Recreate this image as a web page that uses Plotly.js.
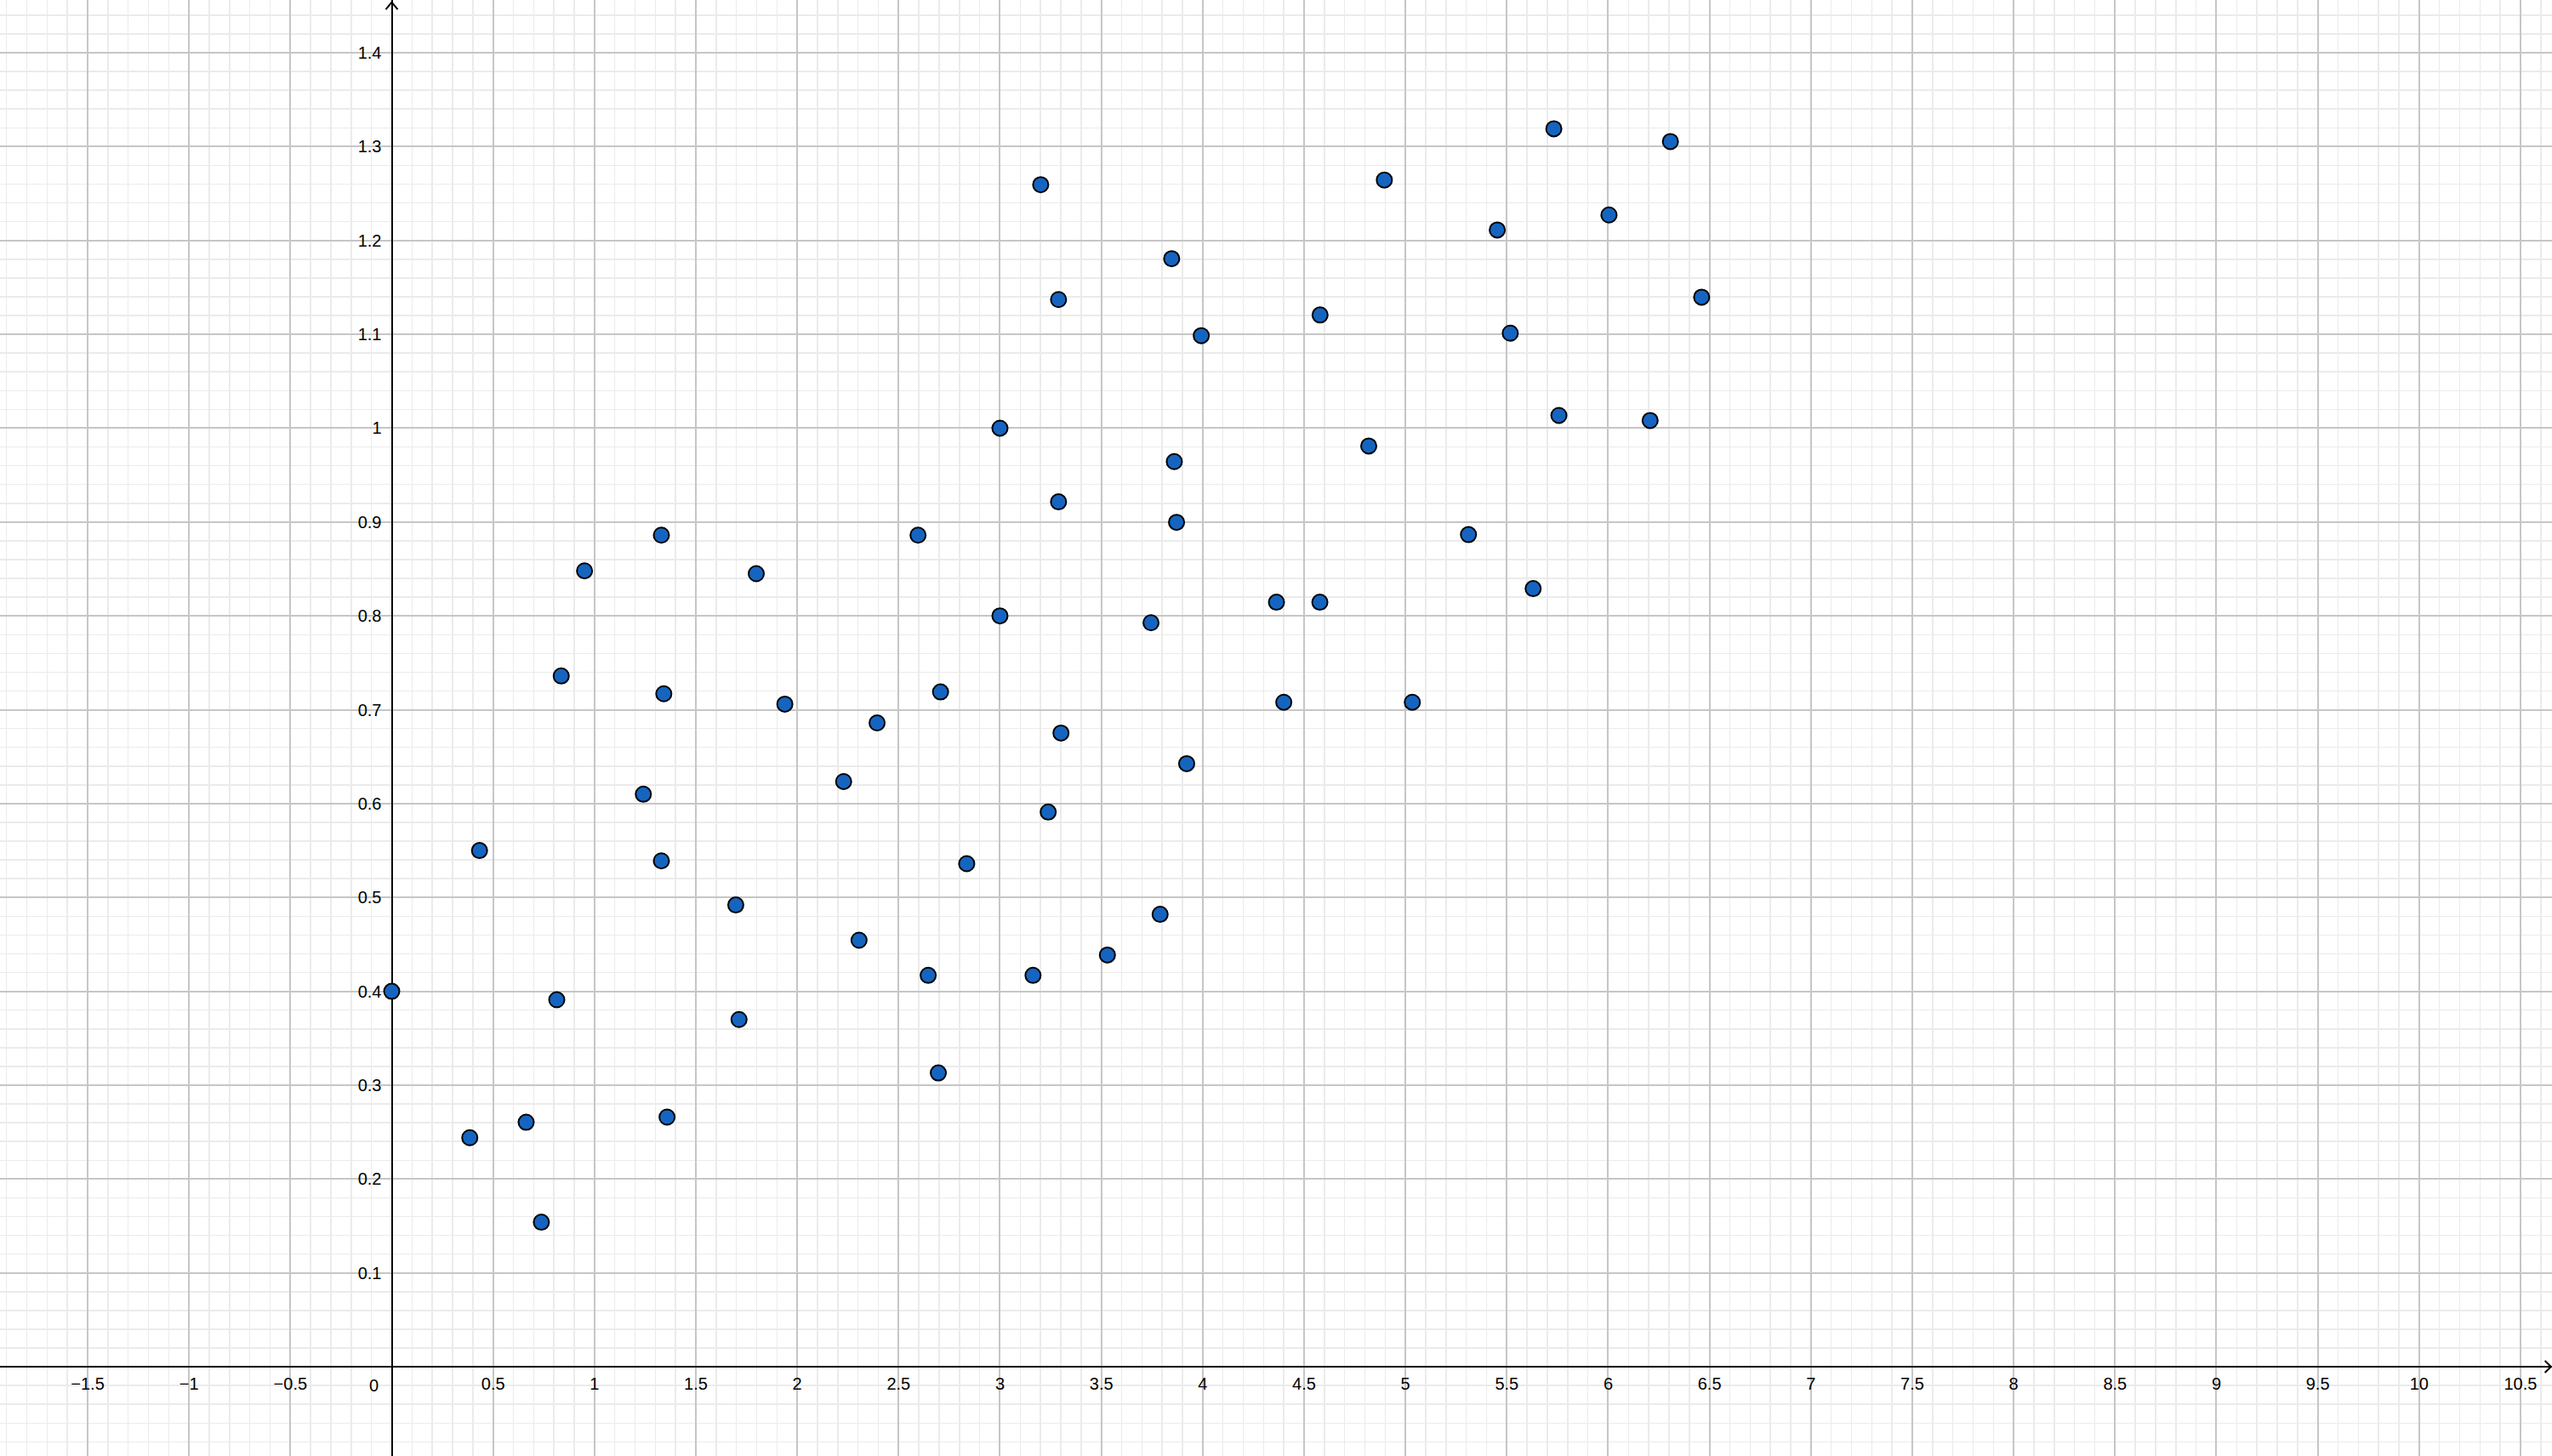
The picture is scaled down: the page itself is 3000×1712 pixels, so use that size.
<!DOCTYPE html>
<html>
<head>
<meta charset="utf-8">
<script src="https://cdn.plot.ly/plotly-3.0.1.min.js"></script>
<style>html,body{margin:0;padding:0;background:#fff;}#chart{width:3000px;height:1712px;}</style>
</head>
<body>
<div id="chart"></div>
<script>
// Data points
const xValues = [0, 0.385, 0.663, 0.738, 0.814, 1.358, 1.713, 0.433, 0.836, 0.951,
  1.330, 1.342, 1.241, 1.330, 1.697, 1.798, 1.939, 2.229, 2.305, 2.394,
  2.646, 2.696, 2.707, 2.596, 2.836, 3.0, 3.0, 3.163, 3.201, 3.238,
  3.289, 3.289, 3.301, 3.53, 3.745, 3.79, 3.847, 3.86, 3.871, 3.921,
  3.993, 4.364, 4.400, 4.579, 4.578, 4.819, 4.896, 5.034, 5.311, 5.453,
  5.517, 5.630, 5.732, 5.757, 6.004, 6.207, 6.307, 6.461];
const yValues = [0.400, 0.244, 0.2605, 0.154, 0.391, 0.266, 0.370, 0.550, 0.736, 0.848,
  0.886, 0.717, 0.610, 0.539, 0.492, 0.845, 0.706, 0.6235, 0.4545, 0.686,
  0.417, 0.313, 0.719, 0.886, 0.536, 1.0, 0.8, 0.417, 1.2594, 0.591,
  1.137, 0.9215, 0.6752, 0.4387, 0.7927, 0.482, 1.1806, 0.9644, 0.8997, 0.6426,
  1.0986, 0.8146, 0.708, 1.1206, 0.8146, 0.981, 1.2644, 0.708, 0.8866, 1.2112,
  1.1012, 0.8291, 1.319, 1.0136, 1.2272, 1.0082, 1.3054, 1.1396];

// Tick labels
const xTickVals = [-1.5, -1, -0.5, 0.5, 1, 1.5, 2, 2.5, 3, 3.5, 4, 4.5, 5, 5.5, 6, 6.5, 7, 7.5, 8, 8.5, 9, 9.5, 10, 10.5];
const xTickText = ["\u22121.5", "\u22121", "\u22120.5", "0.5", "1", "1.5", "2", "2.5", "3", "3.5", "4", "4.5", "5", "5.5", "6", "6.5", "7", "7.5", "8", "8.5", "9", "9.5", "10", "10.5"];
const yTickVals = [0.1, 0.2, 0.3, 0.4, 0.5, 0.6, 0.7, 0.8, 0.9, 1, 1.1, 1.2, 1.3, 1.4];
const yTickText = ["0.1", "0.2", "0.3", "0.4", "0.5", "0.6", "0.7", "0.8", "0.9", "1", "1.1", "1.2", "1.3", "1.4"];

const xRange = [-1.9322, 10.6554];
const yRange = [-0.0951, 1.4562];

const majorGrid = '#c6c6c6';
const minorGrid = '#ebebeb';
const fontFamily = 'Liberation Sans, Arial, sans-serif';

const trace = {
  type: 'scatter',
  mode: 'markers',
  x: xValues,
  y: yValues,
  marker: {size: 18, color: '#1565c0', line: {color: '#000000', width: 2}},
  hoverinfo: 'skip',
  cliponaxis: false
};

const xFrac = (0 - xRange[0]) / (xRange[1] - xRange[0]);
const yFrac = (0 - yRange[0]) / (yRange[1] - yRange[0]);

const layout = {
  width: 3000,
  height: 1712,
  margin: {l: 0, r: 0, t: 0, b: 0, pad: 0},
  paper_bgcolor: '#ffffff',
  plot_bgcolor: '#ffffff',
  showlegend: false,
  xaxis: {
    range: xRange,
    anchor: 'free',
    position: yFrac,
    tickmode: 'array',
    tickvals: xTickVals,
    ticktext: xTickText,
    ticks: '',
    ticklabelstandoff: 6,
    showline: false,
    showgrid: true,
    gridcolor: majorGrid,
    gridwidth: 2,
    zeroline: true,
    zerolinecolor: '#000000',
    zerolinewidth: 2,
    tickfont: {family: fontFamily, size: 20, color: '#000000'},
    minor: {tickmode: 'linear', tick0: 0, dtick: 0.1, showgrid: true, gridcolor: minorGrid, gridwidth: 1.5, ticks: ''},
    fixedrange: true
  },
  yaxis: {
    range: yRange,
    anchor: 'free',
    position: xFrac,
    side: 'left',
    tickmode: 'array',
    tickvals: yTickVals,
    ticktext: yTickText,
    ticks: '',
    ticklabelstandoff: 12,
    showline: false,
    showgrid: true,
    gridcolor: majorGrid,
    gridwidth: 2,
    zeroline: true,
    zerolinecolor: '#000000',
    zerolinewidth: 2,
    tickfont: {family: fontFamily, size: 20, color: '#000000'},
    minor: {tickmode: 'linear', tick0: 0, dtick: 0.02, showgrid: true, gridcolor: minorGrid, gridwidth: 1.5, ticks: ''},
    fixedrange: true
  },
  annotations: [{
    x: 0, y: 0, xref: 'x', yref: 'y',
    text: '0', showarrow: false,
    xanchor: 'center', yanchor: 'top',
    xshift: -21, yshift: -9,
    font: {family: fontFamily, size: 20, color: '#000000'}
  }],
  shapes: [
    // arrow head on top of the y axis
    {type: 'path', xref: 'x', yref: 'paper', xsizemode: 'pixel', xanchor: 0,
     path: 'M -7 0.9935 L 0 0.9985 L 7 0.9935', line: {color: '#000000', width: 2}},
    // arrow head at right end of the x axis
    {type: 'path', xref: 'paper', yref: 'y', ysizemode: 'pixel', yanchor: 0,
     path: 'M 0.9972 7 L 0.9996 0 L 0.9972 -7', line: {color: '#000000', width: 2}}
  ]
};

Plotly.newPlot('chart', [trace], layout, {displayModeBar: false, staticPlot: true});
</script>
</body>
</html>
